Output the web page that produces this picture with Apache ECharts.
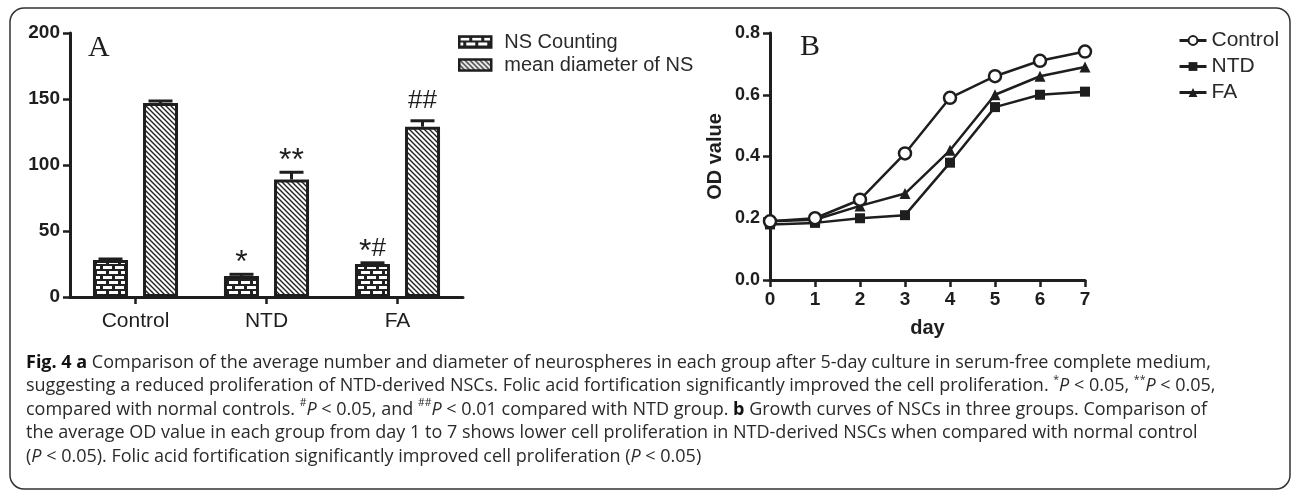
<!DOCTYPE html>
<html>
<head>
<meta charset="utf-8">
<script src="https://cdn.jsdelivr.net/npm/echarts@6/dist/echarts.min.js"></script>
<style>
html,body{margin:0;padding:0;background:#fff;}
#chart{width:1293px;height:492px;}
</style>
</head>
<body>
<div id="chart"></div>
<script>
// ---- Panel A data ----
const groups = ['Control', 'NTD', 'FA'];
const nsCount = [28, 16, 25];
const nsCountErr = [0.8, 1.2, 0.9];
const nsDiam = [147, 89, 129];
const nsDiamErr = [1.5, 5.5, 4.5];
const countSig = ['', '*', '*#'];
const diamSig = ['', '**', '##'];
const yTicksA = [0, 50, 100, 150, 200];

// ---- Panel B data ----
const days = [0, 1, 2, 3, 4, 5, 6, 7];
const odControl = [0.19, 0.20, 0.26, 0.41, 0.59, 0.66, 0.71, 0.74];
const odNTD = [0.18, 0.185, 0.20, 0.21, 0.38, 0.56, 0.60, 0.61];
const odFA = [0.19, 0.195, 0.24, 0.28, 0.42, 0.60, 0.66, 0.69];

const INK = '#1e1e1e';
const AX = 'Liberation Sans, Arial, sans-serif';

function brickPattern() {
  const c = document.createElement('canvas');
  c.width = 12; c.height = 10;
  const g = c.getContext('2d');
  g.fillStyle = '#222222'; g.fillRect(0, 0, 12, 10);
  g.fillStyle = '#ffffff';
  g.fillRect(1, 1, 9, 3);
  g.fillRect(7, 6, 9, 3);
  g.fillRect(-5, 6, 9, 3);
  return c;
}
function hatchPattern() {
  const c = document.createElement('canvas');
  c.width = 5; c.height = 5;
  const g = c.getContext('2d');
  g.fillStyle = '#ffffff'; g.fillRect(0, 0, 5, 5);
  g.strokeStyle = '#222222'; g.lineWidth = 1.4;
  g.beginPath();
  g.moveTo(-1, -1); g.lineTo(6, 6);
  g.moveTo(-1, 4); g.lineTo(1, 6);
  g.moveTo(4, -1); g.lineTo(6, 1);
  g.stroke();
  return c;
}
const brick = { image: brickPattern(), repeat: 'repeat' };
const hatch = { image: hatchPattern(), repeat: 'repeat' };

function errRender(means, errs, sigs, offset) {
  return function (params, api) {
    const i = params.dataIndex;
    const base = api.coord([i, means[i]]);
    const top = api.coord([i, means[i] + errs[i]]);
    const x = base[0] + offset;
    const children = [
      { type: 'line', shape: { x1: x, y1: base[1], x2: x, y2: top[1] }, style: { stroke: INK, lineWidth: 3 } },
      { type: 'line', shape: { x1: x - 12, y1: top[1], x2: x + 12, y2: top[1] }, style: { stroke: INK, lineWidth: 3 } }
    ];
    const s = sigs[i];
    if (s) {
      // asterisks sit high in their em box, so they need less clearance
      const lift = s.indexOf('*') >= 0 ? -5 : 7;
      children.push({
        type: 'text', x: x, y: top[1] - lift,
        style: {
          text: s.replace(/\*/g, '{s|*}').replace(/#/g, '{h|#}'),
          fill: INK, font: 'normal 26px ' + AX,
          align: 'center', verticalAlign: 'bottom',
          rich: {
            s: { fontSize: 32, fontFamily: AX, fill: INK },
            h: { fontSize: 26, fontFamily: AX, fill: INK, verticalAlign: 'top' }
          }
        }
      });
    }
    return { type: 'group', children: children };
  };
}

const CAP_FS = 18, CAP_LH = 23.5;
const caption =
  '{b|Fig. 4 a} Comparison of the average number and diameter of neurospheres in each group after 5-day culture in serum-free complete medium,\n' +
  'suggesting a reduced proliferation of NTD-derived NSCs. Folic acid fortification significantly improved the cell proliferation. {sup|*}{i|P} < 0.05, {sup|**}{i|P} < 0.05,\n' +
  'compared with normal controls. {sup|#}{i|P} < 0.05, and {sup|##}{i|P} < 0.01 compared with NTD group. {b|b} Growth curves of NSCs in three groups. Comparison of\n' +
  'the average OD value in each group from day 1 to 7 shows lower cell proliferation in NTD-derived NSCs when compared with normal control\n' +
  '({i|P} < 0.05). Folic acid fortification significantly improved cell proliferation ({i|P} < 0.05)';

const chart = echarts.init(document.getElementById('chart'), null, { renderer: 'canvas' });

const axisCommon = {
  axisLine: { show: true, lineStyle: { color: INK, width: 3 } },
  axisTick: { show: true, length: 7, lineStyle: { color: INK, width: 2.5 } },
  splitLine: { show: false },
  axisLabel: { color: INK, fontFamily: AX, fontWeight: 'bold', fontSize: 19, margin: 10 }
};

chart.setOption({
  animation: false,
  backgroundColor: '#ffffff',
  grid: [
    { left: 70, top: 33, width: 393, height: 264 },
    { left: 770, top: 33, width: 315, height: 247 }
  ],
  legend: [
    {
      data: ['NS Counting', 'mean diameter of NS'],
      left: 453, top: 27, orient: 'vertical',
      icon: 'rect', itemWidth: 32, itemHeight: 11, itemGap: 3,
      itemStyle: { borderColor: INK, borderWidth: 2.5 },
      textStyle: { fontFamily: AX, fontSize: 20, color: '#2a2a2a', padding: [0, 0, 0, 8] },
      selectedMode: false
    },
    {
      data: ['Control', 'NTD', 'FA'],
      left: 1173, top: 25, orient: 'vertical',
      itemWidth: 27, itemHeight: 11, itemGap: 5,
      lineStyle: { width: 3 },
      textStyle: { fontFamily: AX, fontSize: 21, color: '#2a2a2a' },
      selectedMode: false
    }
  ],
  xAxis: [
    Object.assign({}, axisCommon, {
      gridIndex: 0, type: 'category', data: groups,
      axisTick: { show: true, alignWithLabel: true, length: 7, lineStyle: { color: INK, width: 2.5 } },
      axisLabel: { color: INK, fontFamily: AX, fontSize: 21, margin: 14 }
    }),
    Object.assign({}, axisCommon, {
      gridIndex: 1, type: 'value', min: 0, max: 7, interval: 1,
      name: 'day', nameLocation: 'middle', nameGap: 38,
      nameTextStyle: { color: INK, fontFamily: AX, fontWeight: 'bold', fontSize: 20 }
    })
  ],
  yAxis: [
    Object.assign({}, axisCommon, {
      gridIndex: 0, type: 'value', min: yTicksA[0], max: yTicksA[yTicksA.length - 1], interval: 50
    }),
    Object.assign({}, axisCommon, {
      gridIndex: 1, type: 'value', min: 0, max: 0.8, interval: 0.2,
      axisLabel: Object.assign({}, axisCommon.axisLabel, { fontSize: 18, formatter: v => v.toFixed(1) }),
      name: 'OD value', nameLocation: 'middle', nameGap: 45, nameRotate: 90,
      nameTextStyle: { color: INK, fontFamily: AX, fontWeight: 'bold', fontSize: 20 }
    })
  ],
  series: [
    {
      name: 'NS Counting', type: 'bar', xAxisIndex: 0, yAxisIndex: 0,
      data: nsCount, barWidth: 35, barGap: '43%',
      itemStyle: { color: brick, borderColor: INK, borderWidth: 3 }
    },
    {
      name: 'mean diameter of NS', type: 'bar', xAxisIndex: 0, yAxisIndex: 0,
      data: nsDiam, barWidth: 35, barGap: '43%',
      itemStyle: { color: hatch, borderColor: INK, borderWidth: 3 }
    },
    {
      type: 'custom', xAxisIndex: 0, yAxisIndex: 0, z: 5,
      data: nsCount.map((v, i) => [i, v + nsCountErr[i]]),
      renderItem: errRender(nsCount, nsCountErr, countSig, -25)
    },
    {
      type: 'custom', xAxisIndex: 0, yAxisIndex: 0, z: 5,
      data: nsDiam.map((v, i) => [i, v + nsDiamErr[i]]),
      renderItem: errRender(nsDiam, nsDiamErr, diamSig, 25)
    },
    {
      name: 'Control', type: 'line', xAxisIndex: 1, yAxisIndex: 1, z: 4,
      data: days.map((d, i) => [d, odControl[i]]),
      symbol: 'circle', symbolSize: 12,
      lineStyle: { color: INK, width: 2.5 },
      itemStyle: { color: '#ffffff', borderColor: INK, borderWidth: 2.5 }
    },
    {
      name: 'NTD', type: 'line', xAxisIndex: 1, yAxisIndex: 1, z: 3,
      data: days.map((d, i) => [d, odNTD[i]]),
      symbol: 'rect', symbolSize: 10,
      lineStyle: { color: INK, width: 2.5 },
      itemStyle: { color: INK, borderColor: INK, borderWidth: 0 }
    },
    {
      name: 'FA', type: 'line', xAxisIndex: 1, yAxisIndex: 1, z: 3,
      data: days.map((d, i) => [d, odFA[i]]),
      symbol: 'triangle', symbolSize: 11,
      lineStyle: { color: INK, width: 2.5 },
      itemStyle: { color: INK, borderColor: INK, borderWidth: 0 }
    }
  ],
  graphic: [
    {
      type: 'rect', shape: { x: 10, y: 8, width: 1280, height: 481, r: 14 },
      style: { fill: 'none', stroke: '#333333', lineWidth: 1.5 }, silent: true
    },
    {
      type: 'text', left: 88, top: 33,
      style: { text: 'A', font: 'normal 30px "Liberation Serif", "DejaVu Serif", serif', fill: INK }
    },
    {
      type: 'text', left: 800, top: 32,
      style: { text: 'B', font: 'normal 30px "Liberation Serif", "DejaVu Serif", serif', fill: INK }
    },
    {
      type: 'text', left: 26, top: 351,
      style: {
        text: caption,
        fontFamily: 'Open Sans', fontSize: CAP_FS, fill: '#2a2a2a', lineHeight: CAP_LH,
        rich: {
          b: { fontFamily: 'Open Sans', fontSize: CAP_FS, fontWeight: 'bold', fill: '#111', lineHeight: CAP_LH },
          i: { fontFamily: 'Open Sans', fontSize: CAP_FS, fontStyle: 'italic', fill: '#2a2a2a', lineHeight: CAP_LH },
          sup: { fontFamily: 'Open Sans', fontSize: 10.5, fill: '#2a2a2a', verticalAlign: 'top' }
        }
      }
    }
  ]
});
</script>
</body>
</html>
